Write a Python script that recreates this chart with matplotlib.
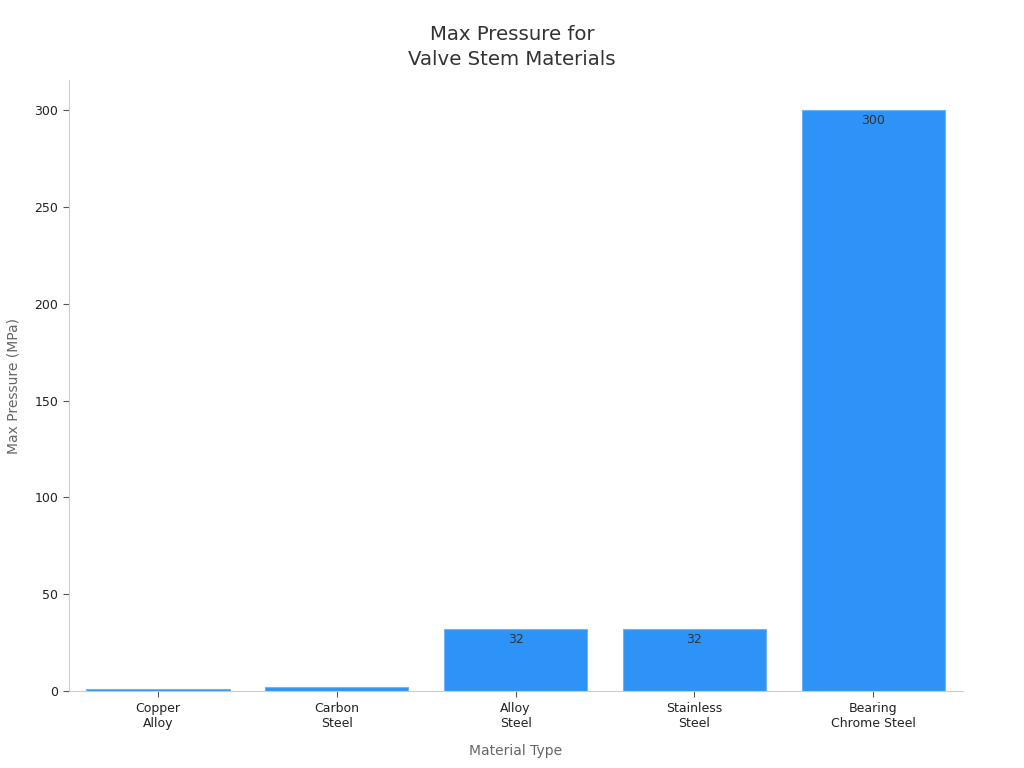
import matplotlib.pyplot as plt

categories = ['Copper\nAlloy', 'Carbon\nSteel', 'Alloy\nSteel', 'Stainless\nSteel', 'Bearing\nChrome Steel']
max_pressure = [1, 2, 32, 32, 300]

fig = plt.figure(figsize=(10.24, 7.68), dpi=100)
ax = fig.add_axes([0.067, 0.100, 0.873, 0.796])

bars = ax.bar(range(len(categories)), max_pressure, width=0.8,
              color='#2E93F7', edgecolor='#6DB3F9', linewidth=0.8)

# value labels just inside the top of each bar, clipped to the bar
for bar, v in zip(bars, max_pressure):
    t = ax.annotate(str(v), (bar.get_x() + bar.get_width() / 2, v),
                    xytext=(0, -3), textcoords='offset points',
                    ha='center', va='top', fontsize=9, color='#333333')
    t.set_clip_path(bar)

ax.set_xlim(-0.5, 4.5)
ax.set_ylim(0, 315.5)
ax.set_xticks(range(len(categories)))
ax.set_xticklabels(categories)
ax.set_yticks([0, 50, 100, 150, 200, 250, 300])

for s in ['top', 'right']:
    ax.spines[s].set_visible(False)
for s in ['left', 'bottom']:
    ax.spines[s].set_color('#cccccc')
    ax.spines[s].set_linewidth(0.8)

ax.tick_params(axis='both', colors='#555555', labelcolor='#222222', labelsize=9, length=4, width=0.8)

ax.set_xlabel('Material Type', fontsize=10, color='#666666', labelpad=10)
ax.set_ylabel('Max Pressure (MPa)', fontsize=10, color='#666666', labelpad=10)
fig.suptitle('Max Pressure for\nValve Stem Materials', fontsize=14.2, color='#333333',
             y=0.968, linespacing=1.45)

fig.savefig('out.png', dpi=100)
